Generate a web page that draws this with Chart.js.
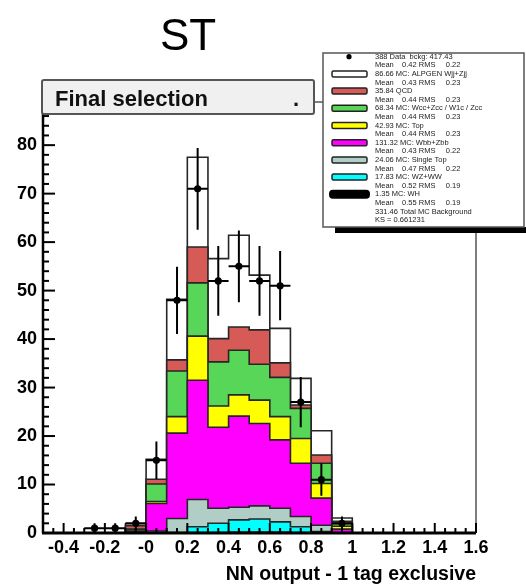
<!DOCTYPE html>
<html>
<head>
<meta charset="utf-8">
<title>ST</title>
<script src="https://cdn.jsdelivr.net/npm/chart.js@4.4.0/dist/chart.umd.min.js"></script>
<style>
  html, body { margin: 0; padding: 0; background: #fff; }
</style>
</head>
<body>
<canvas id="myChart" width="526" height="585"></canvas>
<script>
// histogram bins (low edges), width 0.1
var binLow = [-0.1, 0.0, 0.1, 0.2, 0.3, 0.4, 0.5, 0.6, 0.7, 0.8, 0.9];
var binWidth = 0.1;

// MC contributions per bin, bottom of the stack first
var mcWH     = [0, 0, 0, 0.1, 0.1, 0.2, 0.2, 0.2, 0.1, 0, 0];
var mcWZWW   = [0, 0, 0.1, 1.2, 1.9, 2.5, 2.7, 2.1, 1.2, 0.3, 0];
var mcSTop   = [0, 0.4, 2.9, 5.6, 3.1, 2.6, 2.7, 2.8, 2.1, 1.3, 0.1];
var mcWbb    = [0.3, 5.7, 17.6, 24.6, 16.7, 18.8, 17.0, 14.1, 11.0, 5.6, 0.7];
var mcTop    = [0.1, 0.4, 3.4, 9.1, 4.4, 4.4, 4.8, 4.8, 5.1, 3.0, 0.6];
var mcWcc    = [0.4, 3.6, 9.4, 11.0, 9.1, 9.2, 7.4, 8.1, 6.2, 4.2, 0.5];
var mcQCD    = [0.7, 1.0, 2.3, 7.4, 4.8, 4.8, 7.1, 3.0, 0.7, 1.7, 0.5];
var mcWjj    = [0.4, 4.1, 12.5, 18.5, 16.5, 18.9, 11.3, 7.1, 5.5, 5.0, 0.7];

// data points (bin centres)
var dataX = [-0.25, -0.15, -0.05, 0.05, 0.15, 0.25, 0.35, 0.45, 0.55, 0.65, 0.75, 0.85, 0.95];
var dataY = [1, 1, 2, 15, 48, 71, 52, 55, 52, 51, 27, 11, 2];

// axes
var xTicks = [-0.4, -0.2, 0, 0.2, 0.4, 0.6, 0.8, 1, 1.2, 1.4, 1.6];
var xTickLabels = ["-0.4", "-0.2", "-0", "0.2", "0.4", "0.6", "0.8", "1", "1.2", "1.4", "1.6"];
var yTicks = [0, 10, 20, 30, 40, 50, 60, 70, 80];
var yTickLabels = ["0", "10", "20", "30", "40", "50", "60", "70", "80"];

// legend text, two lines per entry
var legendText = [
    "388 Data  bckg: 417.43", "Mean    0.42 RMS     0.22",
    "86.66 MC: ALPGEN Wjj+Zjj", "Mean    0.43 RMS     0.23",
    "35.84 QCD", "Mean    0.44 RMS     0.23",
    "68.34 MC: Wcc+Zcc / W1c / Zcc", "Mean    0.44 RMS     0.23",
    "42.93 MC: Top", "Mean    0.44 RMS     0.23",
    "131.32 MC: Wbb+Zbb", "Mean    0.43 RMS     0.22",
    "24.06 MC: Single Top", "Mean    0.47 RMS     0.22",
    "17.83 MC: WZ+WW", "Mean    0.52 RMS     0.19",
    "1.35 MC: WH", "Mean    0.55 RMS     0.19",
    "331.46 Total MC Background", "KS = 0.661231"
];

var layers = [
    { name: "WH", vals: mcWH, color: "#000000" },
    { name: "WZ+WW", vals: mcWZWW, color: "#00ffff" },
    { name: "Single Top", vals: mcSTop, color: "#b0cdc6" },
    { name: "Wbb+Zbb", vals: mcWbb, color: "#ff00ff" },
    { name: "Top", vals: mcTop, color: "#ffff00" },
    { name: "Wcc", vals: mcWcc, color: "#57d657" },
    { name: "QCD", vals: mcQCD, color: "#d65a55" },
    { name: "ALPGEN Wjj+Zjj", vals: mcWjj, color: "#ffffff" }
];
// legend swatch order (top to bottom)
var legendColors = ["data", "#ffffff", "#d65a55", "#57d657", "#ffff00", "#ff00ff", "#b0cdc6", "#00ffff", "wh"];

var FONT = '"Liberation Sans", Arial, Helvetica, sans-serif';

// cumulative step outline for a layer
function stepPoints(cum) {
    var pts = [{ x: binLow[0], y: 0 }];
    for (var i = 0; i < binLow.length; i++) {
        pts.push({ x: binLow[i], y: cum[i] });
    }
    pts.push({ x: binLow[binLow.length - 1] + binWidth, y: 0 });
    return pts;
}

var datasets = [];
var running = binLow.map(function () { return 0; });
layers.forEach(function (l, k) {
    running = running.map(function (v, i) { return v + l.vals[i]; });
    datasets.push({
        label: l.name,
        data: stepPoints(running.slice()),
        stepped: true,
        fill: "origin",
        backgroundColor: l.color,
        borderColor: "#262626",
        borderWidth: 1.6,
        pointRadius: 0,
        order: k + 1
    });
});
datasets.push({
    type: "scatter",
    label: "Data",
    data: dataX.map(function (x, i) { return { x: x, y: dataY[i] }; }),
    pointRadius: 3.6,
    pointBackgroundColor: "#000",
    pointBorderWidth: 0,
    order: 0
});
var dataIndex = datasets.length - 1;

var rootStyle = {
    id: "rootStyle",
    beforeDatasetDraw: function (chart, args) {
        if (args.index !== dataIndex) return;
        var ctx = chart.ctx, xs = chart.scales.x, ys = chart.scales.y;
        ctx.save();
        ctx.strokeStyle = "#000";
        ctx.lineWidth = 2;
        dataX.forEach(function (x, i) {
            var e = Math.sqrt(dataY[i]);
            var px = xs.getPixelForValue(x), py = ys.getPixelForValue(dataY[i]);
            ctx.beginPath();
            ctx.moveTo(px, ys.getPixelForValue(Math.max(0, dataY[i] - e)));
            ctx.lineTo(px, ys.getPixelForValue(dataY[i] + e));
            ctx.moveTo(xs.getPixelForValue(x - binWidth / 2), py);
            ctx.lineTo(xs.getPixelForValue(x + binWidth / 2), py);
            ctx.stroke();
        });
        ctx.restore();
    },
    afterDraw: function (chart) {
        var ctx = chart.ctx, xs = chart.scales.x, ys = chart.scales.y;
        var a = chart.chartArea;
        ctx.save();

        // frame
        ctx.strokeStyle = "#555";
        ctx.lineWidth = 1.5;
        ctx.beginPath();
        ctx.moveTo(a.left, a.top);
        ctx.lineTo(a.right, a.top);
        ctx.lineTo(a.right, a.bottom);
        ctx.stroke();
        ctx.strokeStyle = "#000";
        ctx.lineWidth = 2.5;
        ctx.beginPath();
        ctx.moveTo(a.left, a.top);
        ctx.lineTo(a.left, a.bottom);
        ctx.stroke();
        ctx.lineWidth = 3;
        ctx.beginPath();
        ctx.moveTo(a.left - 1, a.bottom);
        ctx.lineTo(a.right, a.bottom);
        ctx.stroke();

        // x ticks
        ctx.lineWidth = 2;
        for (var t = -0.5; t <= 1.6001; t += 0.05) {
            var major = Math.abs(Math.round(t * 5) - t * 5) < 1e-6;
            var px = xs.getPixelForValue(t);
            ctx.beginPath();
            ctx.moveTo(px, a.bottom);
            ctx.lineTo(px, a.bottom - (major ? 10 : 5));
            ctx.stroke();
        }
        // y ticks
        for (var v = 0; v <= ys.max; v += 2) {
            var py = ys.getPixelForValue(v);
            ctx.beginPath();
            ctx.moveTo(a.left, py);
            ctx.lineTo(a.left + (v % 10 === 0 ? 12 : 6), py);
            ctx.stroke();
        }

        // tick labels
        ctx.fillStyle = "#000";
        ctx.font = "bold 18px " + FONT;
        ctx.textAlign = "center";
        ctx.textBaseline = "alphabetic";
        xTicks.forEach(function (t, i) {
            ctx.fillText(xTickLabels[i], xs.getPixelForValue(t), 553);
        });
        ctx.textAlign = "right";
        ctx.textBaseline = "middle";
        yTicks.forEach(function (t, i) {
            ctx.fillText(yTickLabels[i], 37, ys.getPixelForValue(t));
        });

        // axis title
        ctx.font = "bold 19.5px " + FONT;
        ctx.textAlign = "right";
        ctx.textBaseline = "alphabetic";
        ctx.fillText("NN output - 1 tag exclusive", 476, 580);

        // main title
        ctx.font = "44px " + FONT;
        ctx.textAlign = "center";
        ctx.fillText("ST", 188, 50);

        // "Final selection" box
        ctx.fillStyle = "#f0f0f0";
        ctx.strokeStyle = "#555";
        ctx.lineWidth = 2;
        ctx.beginPath();
        ctx.roundRect(42, 80, 272, 34, 2);
        ctx.fill();
        ctx.stroke();
        ctx.fillStyle = "#111";
        ctx.font = "bold 22px " + FONT;
        ctx.textAlign = "left";
        ctx.fillText("Final selection", 55, 106);
        ctx.fillText(".", 293, 106);

        // legend box
        ctx.fillStyle = "#000";
        ctx.fillRect(335, 227, 195, 6);
        ctx.fillStyle = "#fff";
        ctx.strokeStyle = "#555";
        ctx.lineWidth = 1.5;
        ctx.fillRect(323, 53, 201, 174);
        ctx.strokeRect(323, 53, 201, 174);

        ctx.font = "7.5px " + FONT;
        ctx.textBaseline = "middle";
        legendText.forEach(function (s, i) {
            var y = 56.7 + 8.6 * i;
            ctx.fillStyle = "#222";
            ctx.fillText(s, 375, y);
            if (i % 2 === 0 && i / 2 < legendColors.length) {
                var c = legendColors[i / 2];
                ctx.lineWidth = 1.5;
                ctx.strokeStyle = "#222";
                if (c === "data") {
                    ctx.fillStyle = "#000";
                    ctx.beginPath();
                    ctx.arc(349, y, 2.6, 0, Math.PI * 2);
                    ctx.fill();
                } else if (c === "wh") {
                    ctx.fillStyle = "#000";
                    ctx.beginPath();
                    ctx.roundRect(329, y - 4.5, 41, 9, 4);
                    ctx.fill();
                } else {
                    ctx.fillStyle = c;
                    ctx.beginPath();
                    ctx.roundRect(332, y - 3, 35, 6, 1.5);
                    ctx.fill();
                    ctx.stroke();
                }
            }
        });
        ctx.restore();
    }
};

new Chart(document.getElementById("myChart"), {
    type: "line",
    data: { datasets: datasets },
    options: {
        responsive: false,
        animation: false,
        layout: { padding: { left: 43, right: 50, top: 102, bottom: 52 } },
        scales: {
            x: { type: "linear", min: -0.5, max: 1.6, display: false },
            y: { type: "linear", min: 0, max: 88.9, display: false }
        },
        plugins: {
            legend: { display: false },
            tooltip: { enabled: false }
        }
    },
    plugins: [rootStyle]
});
</script>
</body>
</html>
